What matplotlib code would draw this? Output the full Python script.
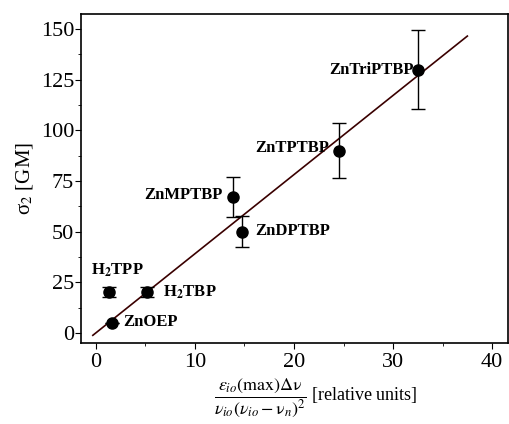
import matplotlib
matplotlib.use("Agg")
import matplotlib.pyplot as plt
from matplotlib.ticker import MultipleLocator

plt.rcParams['font.family'] = ['Liberation Serif', 'DejaVu Serif']
plt.rcParams['mathtext.fontset'] = 'stix'

# measured samples
names = [r"ZnOEP", r"H$_\mathbf{2}$TPP", r"H$_\mathbf{2}$TBP", "ZnMPTBP",
         "ZnDPTBP", "ZnTPTBP", "ZnTriPTBP"]
xvals = [1.6, 1.3, 5.15, 13.8, 14.75, 24.5, 32.5]
yvals = [4.9, 20.2, 20.2, 67.0, 50.0, 90.0, 130.0]
yerrs = [0.0, 2.5, 2.5, 10.0, 7.5, 13.5, 19.5]

# label anchors (data coords) and alignment
label_x = [2.8, 2.2, 6.8, 12.8, 16.1, 23.5, 32.1]
label_y = [5.4, 31.0, 20.2, 68.0, 50.3, 91.3, 130.0]
label_ha = ["left", "center", "left", "right", "left", "right", "right"]

# linear fit
fit_x = [-0.3, 37.5]
fit_y = [-1.2, 146.5]

fig = plt.figure(figsize=(5.09, 4.24), dpi=100)
ax = fig.add_axes([0.159, 0.191, 0.839, 0.776])

ax.plot(fit_x, fit_y, color='#3a0000', lw=1.2, zorder=2)
ax.errorbar(xvals, yvals, yerr=yerrs, fmt='o', color='black', ms=8,
            ecolor='black', elinewidth=1, capsize=5, capthick=1, zorder=3)

for n, lx, ly, ha in zip(names, label_x, label_y, label_ha):
    ax.text(lx, ly, n, ha=ha, va='center', fontsize=12, fontweight='bold')

ax.set_xlim(-1.5, 41.6)
ax.set_ylim(-5, 157.4)
ax.xaxis.set_major_locator(MultipleLocator(10))
ax.xaxis.set_minor_locator(MultipleLocator(5))
ax.yaxis.set_major_locator(MultipleLocator(25))
ax.yaxis.set_minor_locator(MultipleLocator(12.5))
ax.tick_params(which='major', length=4, labelsize=16)
ax.tick_params(axis='y', which='major', pad=1)
ax.tick_params(axis='x', which='major', pad=3)
ax.tick_params(which='minor', length=2.5)
for s in ax.spines.values():
    s.set_linewidth(1.2)

ax.set_ylabel(r"σ$_2$ [GM]", fontsize=15, labelpad=4)
ax.set_xlabel(r"$\dfrac{\varepsilon_{io}(\mathrm{max})\Delta\mathrm{\nu}}{\nu_{io}(\nu_{io}-\mathrm{\nu}_n)^2}$ [relative units]",
              fontsize=13)
ax.xaxis.set_label_coords(0.55, -0.1)

fig.savefig("out.png", dpi=100)
